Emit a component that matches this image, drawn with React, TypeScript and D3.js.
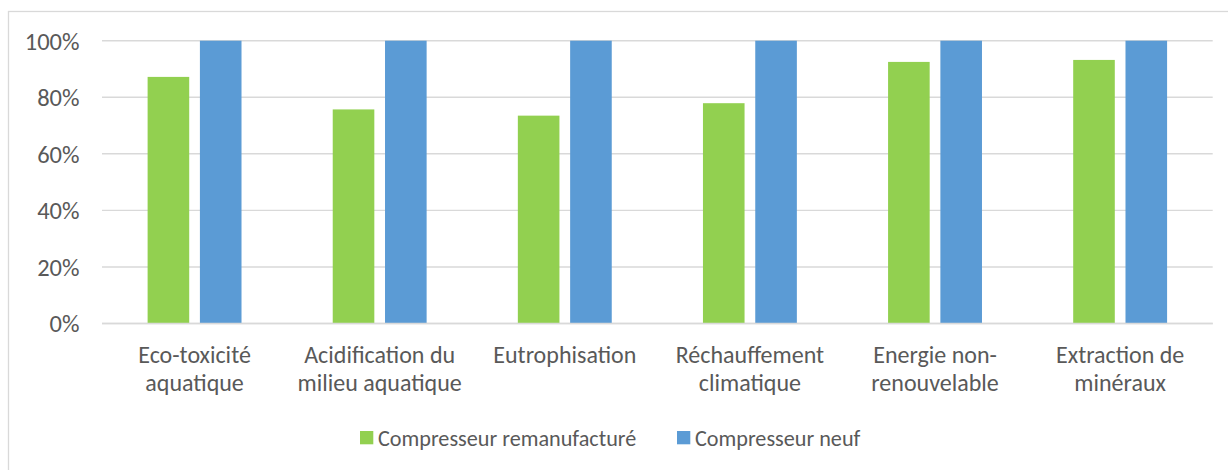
import React from "react";
import * as d3 from "d3";

const categories: string[][] = [
  ["Eco-toxicité", "aquatique"],
  ["Acidification du", "milieu aquatique"],
  ["Eutrophisation"],
  ["Réchauffement", "climatique"],
  ["Energie non-", "renouvelable"],
  ["Extraction de", "minéraux"],
];
const seriesNames = ["Compresseur remanufacturé", "Compresseur neuf"];
const remanufacture = [0.872, 0.757, 0.735, 0.779, 0.925, 0.932];
const neuf = [1, 1, 1, 1, 1, 1];
const yTicks = [0, 0.2, 0.4, 0.6, 0.8, 1.0];
const colors = ["#92D050", "#5B9BD5"];

const W = 1228;
const H = 470;
const FONT = "Carlito, Calibri, Lato, 'Open Sans', sans-serif";
const TEXT = "#595959";

export default function App() {
  const plotLeft = 102;
  const plotRight = 1212.7;
  const y = d3.scaleLinear().domain([0, 1]).range([323.5, 40.7]);
  const x0 = d3
    .scaleBand<number>()
    .domain(categories.map((_, i) => i))
    .range([plotLeft, plotRight])
    .padding(0);
  const cw = x0.bandwidth();
  const groupW = 93.9;
  const x1 = d3
    .scaleBand<number>()
    .domain([0, 1])
    .range([cw / 2 - groupW / 2, cw / 2 + groupW / 2])
    .paddingInner(0.2046)
    .paddingOuter(0);
  const data = [remanufacture, neuf];
  const fmt = d3.format(".0%");

  return (
    <svg
      width={W}
      height={H}
      style={{ position: "absolute", left: 0, top: 0, display: "block", background: "#fff" }}
      fontFamily={FONT}
    >
      <rect x={8.5} y={11.5} width={W + 20} height={H + 20} fill="#fff" stroke="#D9D9D9" strokeWidth={1.3} />
      {yTicks.map((t) => (
        <g key={t}>
          <line x1={plotLeft} x2={plotRight} y1={y(t)} y2={y(t)} stroke="#D9D9D9" strokeWidth={1.4} />
          <text x={79.5} y={y(t)} dy="0.36em" textAnchor="end" fontSize={24.5} fill={TEXT}>
            {fmt(t)}
          </text>
        </g>
      ))}
      {data.map((series, si) =>
        series.map((v, ci) => (
          <rect
            key={`${si}-${ci}`}
            x={(x0(ci) as number) + (x1(si) as number)}
            y={y(v)}
            width={x1.bandwidth()}
            height={y(0) - y(v)}
            fill={colors[si]}
          />
        ))
      )}
      <line x1={plotLeft} x2={plotRight} y1={y(0)} y2={y(0)} stroke="#D9D9D9" strokeWidth={1.4} />
      {categories.map((lines, ci) => (
        <text
          key={ci}
          x={(x0(ci) as number) + cw / 2}
          y={362.5}
          textAnchor="middle"
          fontSize={24}
          fill={TEXT}
        >
          {lines.map((l, li) => (
            <tspan key={li} x={(x0(ci) as number) + cw / 2} dy={li === 0 ? 0 : 28}>
              {l}
            </tspan>
          ))}
        </text>
      ))}
      {seriesNames.map((name, si) => {
        const lx = si === 0 ? 360 : 677;
        return (
          <g key={name}>
            <rect x={lx} y={431} width={13.3} height={13.3} fill={colors[si]} />
            <text x={lx + 18} y={437.7} dy="0.36em" fontSize={22.2} fill={TEXT}>
              {name}
            </text>
          </g>
        );
      })}
    </svg>
  );
}
